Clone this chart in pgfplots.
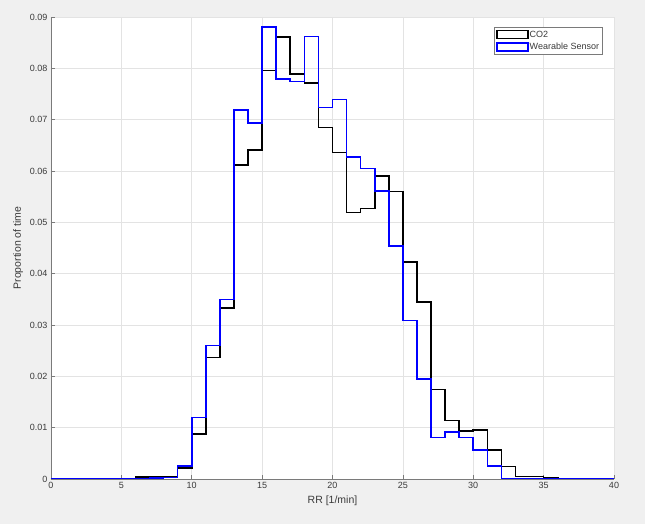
\documentclass[border=0pt]{standalone}
\usepackage{fontspec}
\setmainfont{Liberation Sans}
\usepackage{pgfplots}
\usepackage{pgfplotstable}
\pgfplotsset{compat=1.18}
\usetikzlibrary{backgrounds,calc}

\definecolor{figbg}{HTML}{F0F0F0}
\definecolor{axgray}{HTML}{7A7A7A}
\definecolor{gridgray}{HTML}{E3E3E3}
\definecolor{txt}{HTML}{3A3A3A}
\definecolor{mblue}{RGB}{0,0,255}

% histogram of RR, bins of width 1 (left edge)
\pgfplotstableread{
x  co2     ws
0  0       0
1  0       0
2  0       0
3  0       0
4  0       0
5  0       0
6  0.0004  0
7  0.0004  0.0002
8  0.0005  0.0003
9  0.0022  0.0025
10 0.0088  0.0120
11 0.0237  0.0260
12 0.0333  0.0350
13 0.0612  0.0719
14 0.0641  0.0693
15 0.0796  0.0880
16 0.0861  0.0779
17 0.0789  0.0774
18 0.0771  0.0862
19 0.0685  0.0724
20 0.0636  0.0739
21 0.0519  0.0627
22 0.0527  0.0605
23 0.0590  0.0561
24 0.0560  0.0454
25 0.0423  0.0309
26 0.0345  0.0195
27 0.0174  0.0081
28 0.0114  0.0091
29 0.0094  0.0081
30 0.0096  0.0057
31 0.0057  0.0025
32 0.0024  0
33 0.0005  0
34 0.0005  0
35 0.0002  0
36 0       0
37 0       0
38 0       0
39 0       0
40 0       0
}\hist

\begin{document}
\begin{tikzpicture}
\begin{axis}[
  name=ax,
  width=563pt, height=462pt, scale only axis,
  xmin=0, xmax=40, ymin=0, ymax=0.09,
  axis x line*=bottom, axis y line*=left,
  axis line style={draw=axgray, line width=0.7pt},
  xtick={0,5,10,15,20,25,30,35,40},
  ytick={0,0.01,0.02,0.03,0.04,0.05,0.06,0.07,0.08,0.09},
  tick align=inside, major tick length=4pt,
  tick style={axgray, line width=0.6pt},
  grid=major, major grid style={gridgray, line width=0.6pt},
  scaled y ticks=false,
  yticklabel style={/pgf/number format/fixed, /pgf/number format/precision=2},
  /pgf/number format/assume math mode=true,
  ticklabel style={font=\fontsize{9}{10}\selectfont, text=txt},
  label style={font=\fontsize{10.5}{12}\selectfont, text=txt},
  xlabel={RR [1/min]}, ylabel={Proportion of time},
  axis background/.style={fill=white},
  legend style={at={(0.98,0.978)}, anchor=north east, draw=axgray, fill=white,
    font=\fontsize{9}{10}\selectfont, text=txt,
    inner xsep=2.5pt, inner ysep=2.5pt, row sep=2.5pt,
    nodes={inner sep=1pt}},
  legend cell align=left,
]
\addplot[const plot, black, line width=1.6pt,
  legend image code/.code={\draw[black, line width=1.4pt, fill=white] (0pt,-4pt) rectangle (31pt,4pt);}]
  table[x=x, y=co2] {\hist};
\addlegendentry{CO2}
\addplot[const plot, mblue, line width=1.6pt,
  legend image code/.code={\draw[mblue, line width=1.4pt, fill=white] (0pt,-4pt) rectangle (31pt,4pt);}]
  table[x=x, y=ws] {\hist};
\addlegendentry{Wearable Sensor}
\end{axis}
\begin{scope}[on background layer]
\fill[figbg] ($(ax.south west)+(-51pt,-45pt)$) rectangle ($(ax.south west)+(594pt,479pt)$);
\end{scope}
\end{tikzpicture}
\end{document}
